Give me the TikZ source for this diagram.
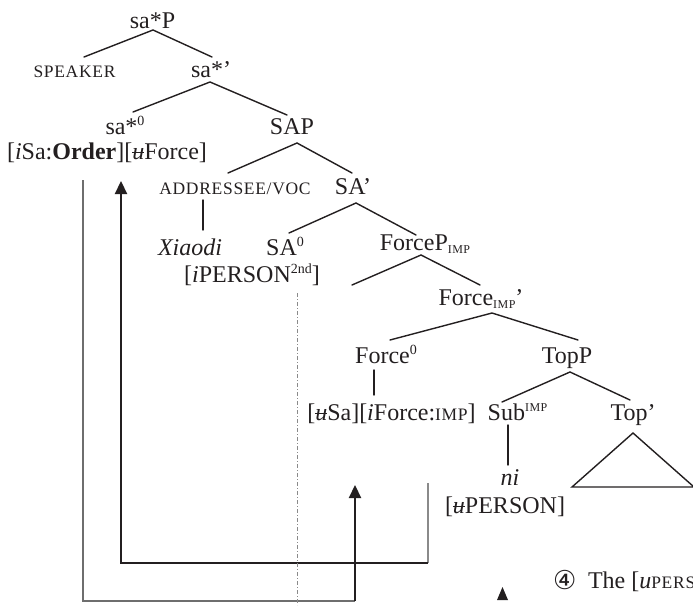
\documentclass[tikz,border=0pt]{standalone}
\usepackage{fontspec}
\setmainfont{Liberation Serif}
\newfontfamily\scfont[LetterSpace=4]{Liberation Serif}
\newfontfamily\symfont{DejaVu Sans}
\usetikzlibrary{calc,arrows.meta}

\definecolor{ink}{HTML}{231F20}
\definecolor{guide}{HTML}{6E6E6E}
\definecolor{faint}{HTML}{8A8A8A}

% small capitals, sub- and superscripts, struck-out u
\newcommand\smc[1]{{\fontsize{17.5}{20}\scfont #1}}
\newcommand\lowcap[1]{\raisebox{-3pt}{\fontsize{12}{12}\scfont #1}}
\newcommand\highcap[1]{\raisebox{8.5pt}{\fontsize{12}{12}\scfont #1}}
\newcommand\highnum[1]{\raisebox{9pt}{\fontsize{14}{14}\selectfont #1}}
\newcommand\ustruck{\textit{u}\llap{\rule[0.24em]{0.5em}{0.05em}}}

\begin{document}
\begin{tikzpicture}[x=1pt,y=-1pt,
  font=\fontsize{24}{28}\selectfont,
  lbl/.style={anchor=base, inner sep=0pt, outer sep=0pt,
              text height=16pt, text depth=0pt, text=ink},
  branch/.style={draw=ink, line width=1.4pt, line cap=round},
  guideline/.style={draw=guide, line width=1.1pt},
  lift/.style={draw=ink, line width=2.2pt,
               -{Triangle[length=13pt,width=12pt]}},
  dashdot/.style={draw=faint, line width=0.9pt,
                  dash pattern=on 4pt off 2pt on 1pt off 2pt}]

\useasboundingbox (0,0) rectangle (693,605);
\clip (0,0) rectangle (693,605);

% ---- tree labels ----
\node[lbl] (saP)      at (152.5,28) {sa*P};
\node[lbl] (speaker)  at (74.5,77)  {\smc{SPEAKER}};
\node[lbl] (saBar)    at (211,77)   {sa*’};
\node[lbl] (saZero)   at (125,134)  {sa*\highnum{0}};
\node[lbl] (sap)      at (292,134)  {SAP};
\node[lbl] (saFeat)   at (107,159)  {[\textit{i}Sa:\textbf{Order}][\ustruck Force]};
\node[lbl] (addr)     at (235,194)  {\smc{ADDRESSEE/VOC}};
\node[lbl] (saPrime)  at (353,194)  {SA’};
\node[lbl] (xiaodi)   at (190,255)  {\textit{Xiaodi}};
\node[lbl] (saHead)   at (285,255)  {SA\highnum{0}};
\node[lbl] (forceP)   at (425,250)  {ForceP\lowcap{IMP}};
\node[lbl] (person2)  at (252,282)  {[\textit{i}PERSON\highnum{2nd}]};
\coordinate (spec)    at (352,285);
\node[lbl] (forceBar) at (481,305)  {Force\lowcap{IMP}’};
\node[lbl] (force0)   at (386,363)  {Force\highnum{0}};
\node[lbl] (topP)     at (567,363)  {TopP};
\node[lbl] (forceFeat) at (391.5,420) {[\ustruck Sa][\textit{i}Force:\smc{IMP}]};
\node[lbl] (sub)      at (517.5,420) {Sub\highcap{IMP}};
\node[lbl] (topBar)   at (633,420)  {Top’};
\node[lbl] (ni)       at (510,485)  {\textit{ni}};
\node[lbl] (person)   at (505,513)  {[\ustruck PERSON]};

% ---- branches ----
\draw[branch] ($(speaker.north)+(9.5,-4)$) -- ($(saP.south)+(0.5,2)$) -- ($(saBar.north)+(1,-4)$);
\draw[branch] ($(saZero.north)+(8,-6)$) -- ($(saBar.south)+(-1,5)$) -- ($(sap.north)+(-5,-3)$);
\draw[branch] ($(addr.north)+(-7,-5)$) -- ($(sap.south)+(5,9)$) -- ($(saPrime.north)+(-1,-5)$);
\draw[branch] ($(addr.south)+(-32,6)$) -- ($(xiaodi.north)+(13,-9)$);
\draw[branch] ($(saHead.north)+(4,-6)$) -- ($(saPrime.south)+(3,9)$) -- ($(forceP.north)+(-9,1)$);
\draw[branch] (spec) -- ($(forceP.south)+(-4,5)$) -- ($(forceBar.north)+(-1,-4)$);
\draw[branch] ($(force0.north)+(4,-7)$) -- ($(forceBar.south)+(11,8)$) -- ($(topP.north)+(11,-7)$);
\draw[branch] ($(force0.south)+(-12,7)$) -- ($(forceFeat.north)+(-17.5,-9)$);
\draw[branch] ($(sub.north)+(-15.5,-2)$) -- ($(topP.south)+(3,9)$) -- ($(topBar.north)+(-3,-4)$);
\draw[branch] ($(sub.south)+(-9.5,5)$) -- ($(ni.north)+(-2,-4)$);
\draw[branch, line join=miter] ($(topBar.south)+(0,13)$) -- ($(topBar.south)+(-61,67)$)
      -- ($(topBar.south)+(61,67)$) -- cycle;

% ---- feature movement paths ----
\coordinate (aStart)   at (428,483);
\coordinate (aCornerR) at (428,563);
\coordinate (aCornerL) at (121,563);
\coordinate (aTip)     at ($(saFeat.south)+(14,22)$);
\draw[guideline, draw=faint] (aStart) -- (aCornerR);
\draw[branch, line cap=butt] (aCornerR) -- (aCornerL);
\draw[lift] ([yshift=-0.7pt]aCornerL) -- (aTip);

\coordinate (bStart)   at ($(saFeat.south)+(-24,21)$);
\coordinate (bCornerL) at (83,601);
\coordinate (bCornerR) at (355,601);
\coordinate (bTip)     at (355,485);
\draw[guideline] (bStart) -- (bCornerL) -- (bCornerR);
\draw[lift] (bCornerR) -- (bTip);

% dash-dotted divider under SA0
\draw[dashdot] ($(person2.south)+(45,11)$) -- (297,605);

% small marker and the start of the following line
\fill[ink] (497,600) -- (508,600) -- (502.5,587) -- cycle;
\node[lbl, anchor=base west] (circ) at (553,589) {{\symfont\fontsize{26}{26}\selectfont ④}};
\node[lbl, anchor=base west] (note) at (588,588) {The [\textit{u}\smc{PERSON}};
\end{tikzpicture}
\end{document}
